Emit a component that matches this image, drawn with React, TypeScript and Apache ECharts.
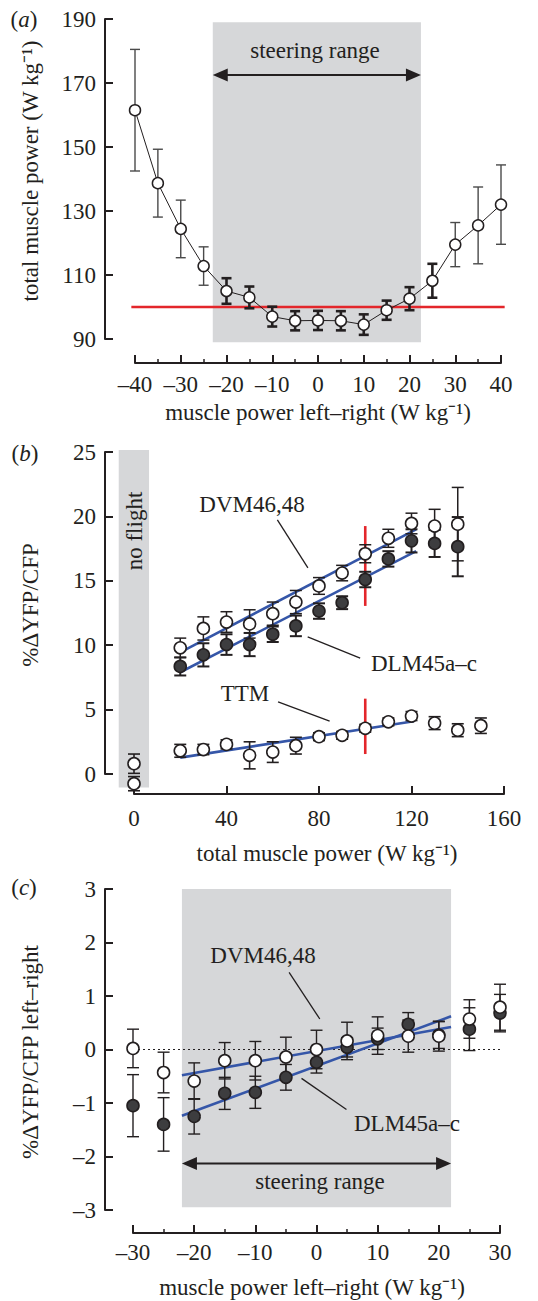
import React, { useEffect, useRef } from 'react';
import * as echarts from 'echarts';

const FONT = "'Liberation Serif', 'Times New Roman', serif";
const INK = '#231f20';
const GREY = '#d6d7d9';
const BLUE = '#3556a8';
const RED = '#e3262b';
const DARK = '#3d3d3f';

// ---------- Panel (a) ----------
const xA = [-40, -35, -30, -25, -20, -15, -10, -5, 0, 5, 10, 15, 20, 25, 30, 35, 40];
const powerA = [161.5, 138.7, 124.4, 112.8, 105.0, 103.0, 97.0, 95.7, 95.8, 95.7, 94.5, 99.0, 102.6, 108.2, 119.5, 125.5, 132.0];
const errA = [19, 10.6, 9, 6, 4, 3.4, 3.1, 3, 3, 3, 3.2, 3, 3.6, 5.3, 6.9, 12, 12.4];
const steeringA = [-23, 22.5];
const steeringBoxYA = [89, 189];
const steeringArrowYA = 172.5;
const refPowerA = 100;

// ---------- Panel (b) ----------
const xB = [20, 30, 40, 50, 60, 70, 80, 90, 100, 110, 120, 130, 140];
const dvmB = [9.8, 11.3, 11.8, 11.65, 12.45, 13.35, 14.6, 15.6, 17.1, 18.3, 19.45, 19.25, 19.4];
const dvmErrB = [0.75, 0.9, 0.8, 1.1, 0.9, 0.9, 0.65, 0.6, 0.7, 0.7, 0.8, 1.3, 2.85];
const dlmB = [8.35, 9.25, 10.05, 10.05, 10.85, 11.5, 12.65, 13.3, 15.1, 16.7, 18.1, 17.9, 17.65];
const dlmErrB = [0.7, 0.9, 0.8, 0.9, 0.6, 0.8, 0.6, 0.5, 0.6, 0.6, 0.9, 1.05, 2.3];
const xTtm = [20, 30, 40, 50, 60, 70, 80, 90, 100, 110, 120, 130, 140, 150];
const ttmB = [1.8, 1.9, 2.3, 1.45, 1.7, 2.2, 2.9, 3.0, 3.55, 4.05, 4.5, 3.95, 3.4, 3.75];
const ttmErrB = [0.5, 0.4, 0.35, 1.05, 0.8, 0.65, 0.3, 0.3, 0.3, 0.3, 0.35, 0.5, 0.5, 0.6];
const xNoFlight = [0, 0];
const noFlightB = [0.8, -0.75];
const noFlightErrB = [0.75, 0.55];
const noFlightBox = [-6.6, 6.5, -1.05, 25.15];
// regression lines: [x1, y1, x2, y2]
const fitB = [
  [20, 9.45, 122, 19.0],
  [20, 7.9, 122, 17.3],
  [20, 1.27, 121, 4.1],
];
const markerB = [
  [100, 13.05, 100, 19.25],
  [100, 1.55, 100, 5.85],
];
const leaderB = [
  [62.0, 19.73, 75.2, 16.0],
  [75.1, 10.65, 97.8, 9.0],
  [62.3, 5.6, 84.6, 4.1],
];

// ---------- Panel (c) ----------
const xC = [-30, -25, -20, -15, -10, -5, 0, 5, 10, 15, 20, 25, 30];
const dvmC = [0.02, -0.43, -0.59, -0.21, -0.21, -0.14, 0.0, 0.16, 0.26, 0.25, 0.25, 0.57, 0.79];
const dvmErrC = [0.36, 0.38, 0.34, 0.34, 0.36, 0.37, 0.36, 0.35, 0.35, 0.3, 0.28, 0.36, 0.43];
const dlmC = [-1.05, -1.4, -1.25, -0.82, -0.8, -0.52, -0.24, 0.04, 0.2, 0.47, 0.27, 0.38, 0.68];
const dlmErrC = [0.58, 0.5, 0.33, 0.3, 0.3, 0.24, 0.2, 0.18, 0.2, 0.22, 0.25, 0.4, 0.35];
const steeringC = [-22, 22];
const steeringBoxYC = [-2.95, 3.0];
const steeringArrowYC = -2.13;
const fitC = [
  [-22, -0.48, 22, 0.42],
  [-22, -1.24, 22, 0.62],
];
const zeroLineC = [[-30, 0, 30.3, 0]];
const leaderC = [
  [-4.48, 1.44, 0.54, 0.57],
  [-2.45, -0.54, 4.9, -1.12],
];

const fmt = (v: number) => (v < 0 ? '\u2013' + Math.abs(v) : String(v));

const mkX = (gridIndex: number, min: number, max: number, interval: number, offset: number, minor: boolean, margin: number) => ({
  type: 'value', gridIndex, min, max, interval, offset, position: 'bottom',
  axisLine: { show: true, onZero: false, lineStyle: { color: INK, width: 2 } },
  axisTick: { show: true, inside: true, length: 8, lineStyle: { color: INK, width: 2 } },
  minorTick: { show: minor, splitNumber: 2, length: 4, lineStyle: { color: INK, width: 1.5 } },
  axisLabel: { margin, color: INK, fontFamily: FONT, fontSize: 23, formatter: fmt, showMinLabel: true, showMaxLabel: true },
  splitLine: { show: false }, minorSplitLine: { show: false },
});
const mkY = (gridIndex: number, min: number, max: number, interval: number, offset: number) => ({
  type: 'value', gridIndex, min, max, interval, offset, position: 'left',
  axisLine: { show: true, onZero: false, lineStyle: { color: INK, width: 2 } },
  axisTick: { show: true, inside: true, length: 8, lineStyle: { color: INK, width: 2 } },
  axisLabel: { margin: 9, color: INK, fontFamily: FONT, fontSize: 23, formatter: fmt, showMinLabel: true, showMaxLabel: true },
  splitLine: { show: false },
});

const rectRender = (color: string) => (_p: any, api: any) => {
  const a = api.coord([api.value(0), api.value(3)]);
  const b = api.coord([api.value(1), api.value(2)]);
  return { type: 'rect', shape: { x: a[0], y: a[1], width: b[0] - a[0], height: b[1] - a[1] }, style: { fill: color } };
};
const segRender = (stroke: string, lineWidth: number, dash?: number[]) => (_p: any, api: any) => {
  const a = api.coord([api.value(0), api.value(1)]);
  const b = api.coord([api.value(2), api.value(3)]);
  return { type: 'line', shape: { x1: a[0], y1: a[1], x2: b[0], y2: b[1] }, style: { stroke, lineWidth, lineDash: dash } };
};
const errRender = (capW: number, widthFn: (x: number) => number, colorFn: (x: number) => string) => (_p: any, api: any) => {
  const x = api.value(0);
  const lo = api.coord([x, api.value(1)]);
  const hi = api.coord([x, api.value(2)]);
  const style = { stroke: colorFn(x), lineWidth: widthFn(x) };
  const h = capW / 2;
  return {
    type: 'group', children: [
      { type: 'line', shape: { x1: lo[0], y1: lo[1], x2: hi[0], y2: hi[1] }, style },
      { type: 'line', shape: { x1: lo[0] - h, y1: lo[1], x2: lo[0] + h, y2: lo[1] }, style },
      { type: 'line', shape: { x1: hi[0] - h, y1: hi[1], x2: hi[0] + h, y2: hi[1] }, style },
    ],
  };
};
const arrowRender = (_p: any, api: any) => {
  const a = api.coord([api.value(0), api.value(2)]);
  const b = api.coord([api.value(1), api.value(2)]);
  const L = 15, H = 6.5;
  return {
    type: 'group', children: [
      { type: 'line', shape: { x1: a[0] + L - 2, y1: a[1], x2: b[0] - L + 2, y2: b[1] }, style: { stroke: INK, lineWidth: 2 } },
      { type: 'polygon', shape: { points: [[a[0], a[1]], [a[0] + L, a[1] - H], [a[0] + L, a[1] + H]] }, style: { fill: INK } },
      { type: 'polygon', shape: { points: [[b[0], b[1]], [b[0] - L, b[1] - H], [b[0] - L, b[1] + H]] }, style: { fill: INK } },
    ],
  };
};

const errData = (xs: number[], ys: number[], es: number[]) => xs.map((x, i) => [x, ys[i] - es[i], ys[i] + es[i]]);
const ptData = (xs: number[], ys: number[]) => xs.map((x, i) => [x, ys[i]]);

const custom = (g: number, data: any[], renderItem: any, z: number, dims: any) => ({
  type: 'custom', xAxisIndex: g, yAxisIndex: g, data, renderItem, z, clip: false, silent: true, encode: dims,
});
const seg = (g: number, data: number[][], stroke: string, w: number, z: number, dash?: number[]) =>
  custom(g, data, segRender(stroke, w, dash), z, { x: [0, 2], y: [1, 3] });
const errS = (g: number, data: number[][], capW: number, wf: (x: number) => number, cf: (x: number) => string, z: number) =>
  custom(g, data, errRender(capW, wf, cf), z, { x: 0, y: [1, 2] });
const pts = (g: number, data: number[][], fill: string, size: number, z: number) => ({
  type: 'scatter', xAxisIndex: g, yAxisIndex: g, data, symbol: 'circle', symbolSize: size, z, silent: true, clip: false,
  itemStyle: { color: fill, borderColor: INK, borderWidth: 1.6, opacity: 1 },
});

const txt = (x: number, y: number, text: string, rot = 0) => ({
  type: 'text', x, y, rotation: rot, z: 100, silent: true,
  style: { text, fill: INK, fontFamily: FONT, fontSize: 23, align: 'center', verticalAlign: 'middle', textAlign: 'center', textVerticalAlign: 'middle' },
});
const panelLabel = (x: number, y: number, letter: string) => ({
  type: 'text', x, y, z: 100, silent: true,
  style: {
    text: `{p|(}{i|${letter}}{p|)}`, align: 'center', verticalAlign: 'middle', textAlign: 'center', textVerticalAlign: 'middle',
    rich: {
      p: { fontFamily: FONT, fontSize: 23, fill: INK, color: INK },
      i: { fontFamily: FONT, fontSize: 23, fontStyle: 'italic', fill: INK, color: INK },
    },
  },
});

export default function App() {
  const ref = useRef<HTMLDivElement>(null);
  useEffect(() => {
    if (!ref.current) return;
    const chart = echarts.init(ref.current, null, { renderer: 'svg' });
    const innerA = (x: number) => x >= -20 && x <= 25;
    const option: any = {
      animation: false,
      backgroundColor: '#ffffff',
      grid: [
        { left: 135, top: 19, width: 366, height: 320 },
        { left: 134, top: 452, width: 370, height: 322 },
        { left: 133, top: 889, width: 367, height: 321 },
      ],
      xAxis: [mkX(0, -40, 40, 10, 24, true, 10), mkX(1, 0, 160, 40, 20, false, 13), mkX(2, -30, 30, 10, 23, true, 8)],
      yAxis: [mkY(0, 90, 190, 20, 30), mkY(1, 0, 25, 5, 29), mkY(2, -3, 3, 1, 28)],
      series: [
        // (a)
        custom(0, [[steeringA[0], steeringA[1], steeringBoxYA[0], steeringBoxYA[1]]], rectRender(GREY), 1, { x: [0, 1], y: [2, 3] }),
        seg(0, [[xA[0] - 0.8, refPowerA, xA[xA.length - 1] + 0.8, refPowerA]], RED, 2.6, 2),
        custom(0, [[steeringA[0], steeringA[1], steeringArrowYA]], arrowRender, 2, { x: [0, 1], y: 2 }),
        errS(0, errData(xA, powerA, errA), 10, (x) => (innerA(x) ? 2.6 : 1.4), (x) => (innerA(x) ? INK : '#4a4a4a'), 3),
        {
          type: 'line', xAxisIndex: 0, yAxisIndex: 0, data: ptData(xA, powerA), z: 4, silent: true, clip: false,
          symbol: 'circle', symbolSize: 11, showSymbol: true,
          lineStyle: { color: INK, width: 1 },
          itemStyle: { color: '#ffffff', borderColor: INK, borderWidth: 1.5 },
        },
        // (b)
        custom(1, [noFlightBox], rectRender(GREY), 1, { x: [0, 1], y: [2, 3] }),
        seg(1, fitB, BLUE, 2.6, 2),
        seg(1, markerB, RED, 2.6, 2),
        seg(1, leaderB, INK, 1.3, 2),
        errS(1, errData(xB, dlmB, dlmErrB), 12, () => 2, () => INK, 3),
        errS(1, errData(xB, dvmB, dvmErrB), 12, () => 1.5, () => INK, 3),
        errS(1, errData(xTtm, ttmB, ttmErrB), 12, () => 1.6, () => INK, 3),
        errS(1, errData(xNoFlight, noFlightB, noFlightErrB), 12, () => 1.6, () => INK, 3),
        pts(1, ptData(xB, dlmB), DARK, 12, 4),
        pts(1, ptData(xB, dvmB), '#ffffff', 12, 5),
        pts(1, ptData(xTtm, ttmB), '#ffffff', 12, 5),
        pts(1, ptData(xNoFlight, noFlightB), '#ffffff', 12, 5),
        // (c)
        custom(2, [[steeringC[0], steeringC[1], steeringBoxYC[0], steeringBoxYC[1]]], rectRender(GREY), 1, { x: [0, 1], y: [2, 3] }),
        seg(2, zeroLineC, INK, 1.2, 2, [2, 3]),
        seg(2, fitC, BLUE, 2.6, 2),
        seg(2, leaderC, INK, 1.3, 2),
        custom(2, [[steeringC[0], steeringC[1], steeringArrowYC]], arrowRender, 2, { x: [0, 1], y: 2 }),
        errS(2, errData(xC, dlmC, dlmErrC), 12, () => 1.4, () => INK, 3),
        errS(2, errData(xC, dvmC, dvmErrC), 12, () => 1.4, () => INK, 3),
        pts(2, ptData(xC, dlmC), DARK, 12, 4),
        pts(2, ptData(xC, dvmC), '#ffffff', 12, 5),
      ],
      graphic: {
        elements: [
          panelLabel(24, 19, 'a'),
          panelLabel(25, 453, 'b'),
          panelLabel(24, 887, 'c'),
          txt(30, 171, 'total muscle power (W kg\u207B\u00B9)', Math.PI / 2),
          txt(318, 412, 'muscle power left\u2013right (W kg\u207B\u00B9)'),
          txt(315, 50, 'steering range'),
          txt(30, 605, '%\u0394YFP/CFP', Math.PI / 2),
          txt(327, 853, 'total muscle power (W kg\u207B\u00B9)'),
          txt(134, 531, 'no flight', Math.PI / 2),
          txt(252, 504, 'DVM46,48'),
          txt(424, 663, 'DLM45a\u2013c'),
          txt(245, 693, 'TTM'),
          txt(30, 1052, '%\u0394YFP/CFP left\u2013right', Math.PI / 2),
          txt(312, 1287, 'muscle power left\u2013right (W kg\u207B\u00B9)'),
          txt(263, 955, 'DVM46,48'),
          txt(407, 1123, 'DLM45a\u2013c'),
          txt(320, 1181, 'steering range'),
        ],
      },
    };
    chart.setOption(option);
    return () => chart.dispose();
  }, []);
  return (
    <div style={{ position: 'absolute', left: 0, top: 0, width: 538, height: 1301, background: '#fff' }}>
      <div ref={ref} style={{ width: 538, height: 1301 }} />
    </div>
  );
}
